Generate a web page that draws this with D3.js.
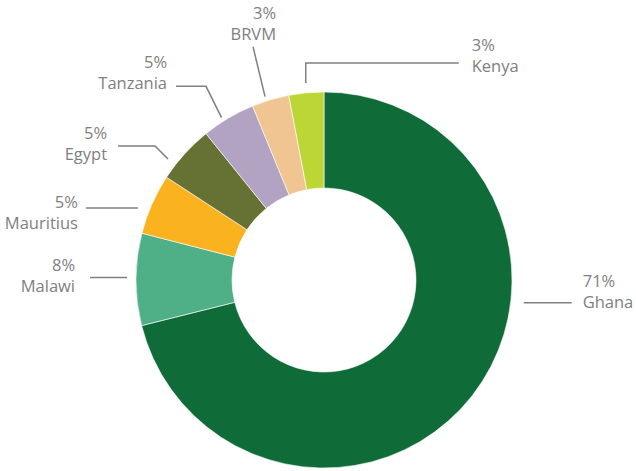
<!DOCTYPE html>
<html>
<head>
<meta charset="utf-8">
<script src="https://cdn.jsdelivr.net/npm/d3@7"></script>
<style>
  html, body { margin: 0; padding: 0; background: #ffffff; }
  svg { display: block; }
  text { font-family: "Open Sans", "Noto Sans", sans-serif; font-size: 16.5px; fill: #7f7f7f; }
</style>
</head>
<body>
<div id="chart"></div>
<script>
// ---- data ----
const categories = ["Ghana", "Malawi", "Mauritius", "Egypt", "Tanzania", "BRVM", "Kenya"];
const values = [71.1, 7.9, 5.2, 5.0, 4.6, 3.2, 3.0];
const colors = ["#0f6b37", "#4faf87", "#fbb21f", "#657234", "#b3a3c3", "#f0c592", "#bcd636"];

// ---- layout (label placement relative to leader anchor on the ring) ----
const labelLayout = [
  { t: 0.377, r: 201, pts: [[0, 0], [48, 0]], tx: 59, ty: -16, anchor: "start" },
  { t: 0.52, r: 197, pts: [[0, 0], [-37, 0]], tx: -52, ty: -6, anchor: "end" },
  { t: 0.36, r: 199.5, pts: [[0, 0], [-52, 0]], tx: -60, ty: 0, anchor: "end" },
  { t: 0.26, r: 197.4, pts: [[0, 0], [-13, -13], [-50, -13]], tx: -61, ty: -20, anchor: "end" },
  { t: 0.40, r: 192, pts: [[0, 0], [-15.5, -31.3], [-45.5, -31.3]], tx: -54.5, ty: -50, anchor: "end" },
  { t: 0.39, r: 192.6, pts: [[0, 0], [-12, -50]], tx: 11, ty: -78, anchor: "end" },
  { t: 0.51, r: 197.8, pts: [[0, 0], [0, -20], [153, -20]], tx: 166, ty: -32, anchor: "start" }
];

const W = 636, H = 471;
const cx = 324, cy = 280, R = 188, r0 = 92;
const lineGap = 21;

const svg = d3.select("#chart").append("svg").attr("width", W).attr("height", H);
const g = svg.append("g").attr("transform", `translate(${cx},${cy})`);

const data = categories.map((c, i) => ({ name: c, value: values[i], color: colors[i], layout: labelLayout[i] }));
const total = d3.sum(values);

const pie = d3.pie().value(d => d.value).sort(null);
const arc = d3.arc().innerRadius(r0).outerRadius(R);
const arcs = pie(data);

g.selectAll("path.slice").data(arcs).enter().append("path")
  .attr("class", "slice")
  .attr("d", arc)
  .attr("fill", d => d.data.color)
  .attr("stroke", "#ffffff")
  .attr("stroke-width", 0.6);

const line = d3.line();
arcs.forEach(a => {
  const L = a.data.layout;
  const ang = a.startAngle + (a.endAngle - a.startAngle) * L.t;
  const ax = L.r * Math.sin(ang), ay = -L.r * Math.cos(ang);
  const pts = L.pts.map(p => [ax + p[0], ay + p[1]]);
  g.append("path")
    .attr("d", line(pts))
    .attr("fill", "none")
    .attr("stroke", "#808080")
    .attr("stroke-width", 1.5);
  const t = g.append("text")
    .attr("text-anchor", L.anchor)
    .attr("x", ax + L.tx)
    .attr("y", ay + L.ty);
  t.append("tspan").attr("x", ax + L.tx).attr("y", ay + L.ty)
    .text(Math.round(a.data.value / total * 100) + "%");
  t.append("tspan").attr("x", ax + L.tx).attr("y", ay + L.ty + lineGap)
    .text(a.data.name);
});
</script>
</body>
</html>
